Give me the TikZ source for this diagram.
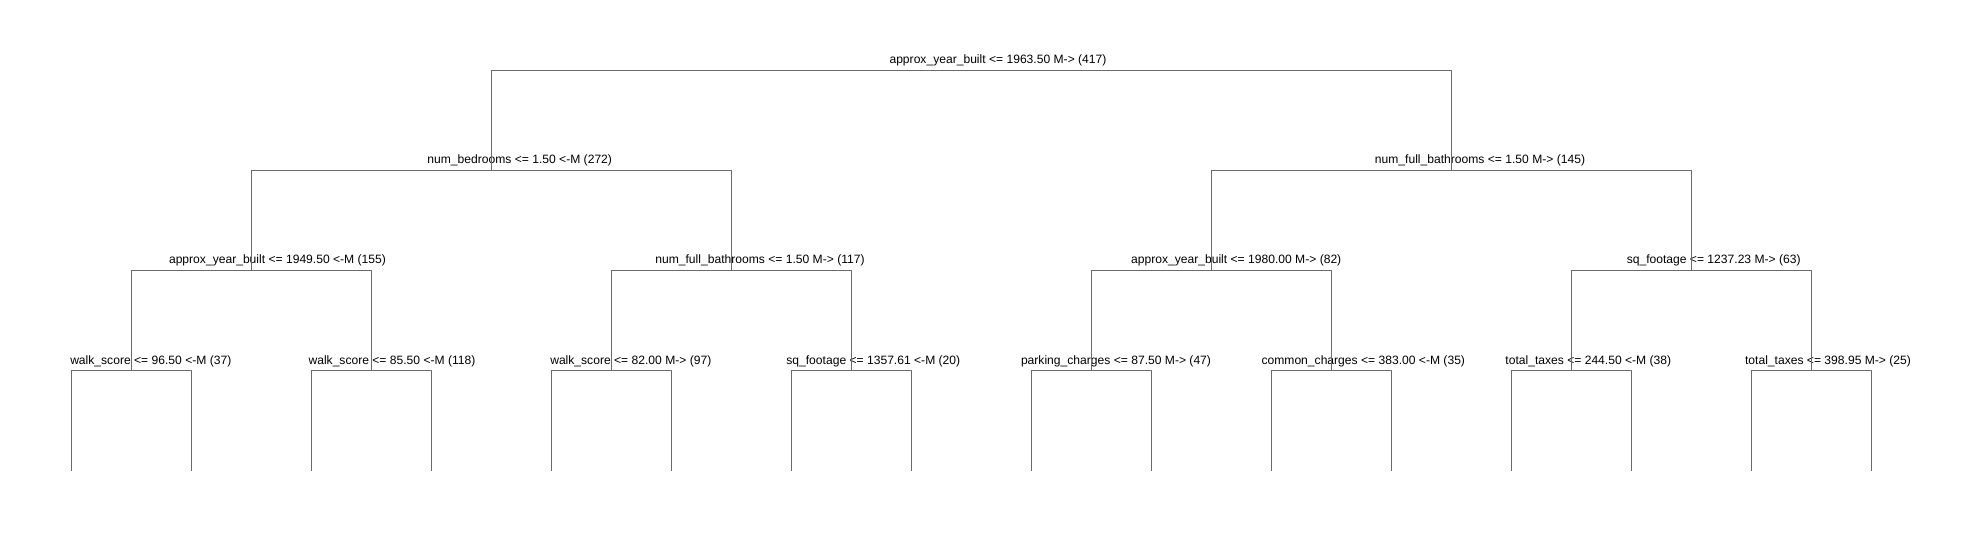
\documentclass[tikz,border=0pt]{standalone}
\usepackage{fontspec}
\setmainfont{Liberation Sans}
\begin{document}
\begin{tikzpicture}[x=1pt,y=-1pt,
  edge/.style={draw=black!58, line width=1pt},
  lbl/.style={anchor=base, inner sep=0pt, font=\fontsize{12.1}{14}\selectfont, text=black}]
\useasboundingbox (0,0) rectangle (1979,540);
% tree coordinates
\coordinate (n0) at (971.3,70.3);
\coordinate (n1) at (491.3,170.3);
\coordinate (n2) at (1451.3,170.3);
\coordinate (n11) at (251.3,270.3);
\coordinate (n12) at (731.3,270.3);
\coordinate (n21) at (1211.3,270.3);
\coordinate (n22) at (1691.3,270.3);
\coordinate (m1) at (131.3,370.3);
\coordinate (m2) at (371.3,370.3);
\coordinate (m3) at (611.3,370.3);
\coordinate (m4) at (851.3,370.3);
\coordinate (m5) at (1091.3,370.3);
\coordinate (m6) at (1331.3,370.3);
\coordinate (m7) at (1571.3,370.3);
\coordinate (m8) at (1811.3,370.3);
\foreach \i/\x in {1/71.3,2/191.3,3/311.3,4/431.3,5/551.3,6/671.3,7/791.3,8/911.3,9/1031.3,10/1151.3,11/1271.3,12/1391.3,13/1511.3,14/1631.3,15/1751.3,16/1871.3}
  \coordinate (l\i) at (\x,470.7);
% labels
\node[lbl] (t0) at (998,64) {approx\_year\_built <= 1963.50 M-> (417)};
\node[lbl] (t1) at (519.7,164) {num\_bedrooms <= 1.50 <-M (272)};
\node[lbl] (t2) at (1480,164) {num\_full\_bathrooms <= 1.50 M-> (145)};
\node[lbl] (t11) at (277.5,264) {approx\_year\_built <= 1949.50 <-M (155)};
\node[lbl] (t12) at (760,264) {num\_full\_bathrooms <= 1.50 M-> (117)};
\node[lbl] (t21) at (1236.2,264) {approx\_year\_built <= 1980.00 M-> (82)};
\node[lbl] (t22) at (1713.7,264) {sq\_footage <= 1237.23 M-> (63)};
\node[lbl] (u1) at (150.8,364) {walk\_score <= 96.50 <-M (37)};
\node[lbl] (u2) at (392,364) {walk\_score <= 85.50 <-M (118)};
\node[lbl] (u3) at (630.8,364) {walk\_score <= 82.00 M-> (97)};
\node[lbl] (u4) at (873.3,364) {sq\_footage <= 1357.61 <-M (20)};
\node[lbl] (u5) at (1116,364) {parking\_charges <= 87.50 M-> (47)};
\node[lbl] (u6) at (1363.3,364) {common\_charges <= 383.00 <-M (35)};
\node[lbl] (u7) at (1588.3,364) {total\_taxes <= 244.50 <-M (38)};
\node[lbl] (u8) at (1828,364) {total\_taxes <= 398.95 M-> (25)};
% edges
\draw[edge] (n1) |- (n0) -| (n2);
\draw[edge] (n11) |- (n1) -| (n12);
\draw[edge] (n21) |- (n2) -| (n22);
\draw[edge] (m1) |- (n11) -| (m2);
\draw[edge] (m3) |- (n12) -| (m4);
\draw[edge] (m5) |- (n21) -| (m6);
\draw[edge] (m7) |- (n22) -| (m8);
\draw[edge] (l1) |- (m1) -| (l2);
\draw[edge] (l3) |- (m2) -| (l4);
\draw[edge] (l5) |- (m3) -| (l6);
\draw[edge] (l7) |- (m4) -| (l8);
\draw[edge] (l9) |- (m5) -| (l10);
\draw[edge] (l11) |- (m6) -| (l12);
\draw[edge] (l13) |- (m7) -| (l14);
\draw[edge] (l15) |- (m8) -| (l16);
\end{tikzpicture}
\end{document}
